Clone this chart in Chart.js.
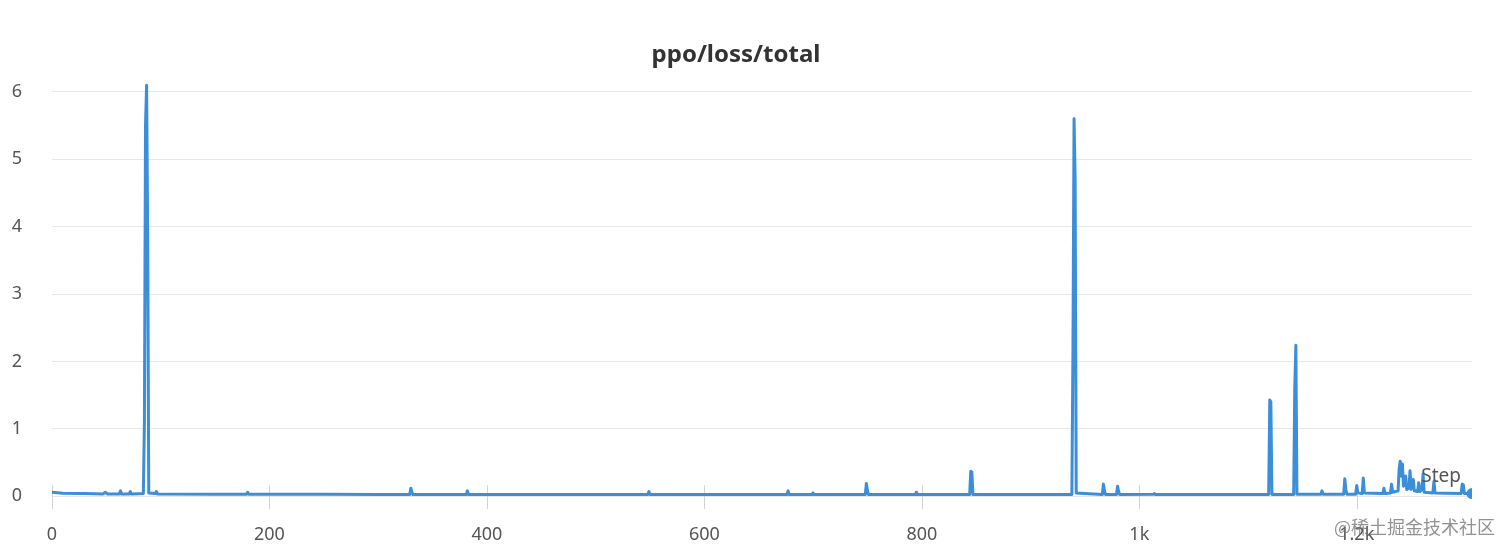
<!DOCTYPE html>
<html>
<head>
<meta charset="utf-8">
<script src="https://cdn.jsdelivr.net/npm/chart.js@4"></script>
<style>
  body { margin: 0; background: #fff; }
  #wrap { width: 1512px; height: 555px; }
</style>
</head>
<body>
<div id="wrap"><canvas id="graph"></canvas></div>
<script>
// step / loss pairs
var steps = [0, 10, 30, 47, 49, 51, 62, 63, 64, 71, 72, 73, 84, 85, 86, 87, 88, 89, 95, 96, 97,
  150, 179, 180, 181, 250, 300, 329, 330, 331, 332, 381, 382, 383, 450, 548, 549, 550,
  600, 676, 677, 678, 699, 700, 701, 748, 749, 750, 751, 794, 795, 796, 844, 845, 846, 847,
  938, 939, 940, 941, 942, 966, 967, 968, 969, 979, 980, 981, 982, 1013, 1014, 1015,
  1080, 1119, 1120, 1121, 1122, 1142, 1143, 1144, 1145, 1167, 1168, 1169, 1188, 1189, 1190, 1191,
  1199, 1200, 1201, 1205, 1206, 1207, 1224, 1225, 1226, 1231, 1232, 1233, 1238, 1239, 1240, 1241,
  1242, 1243, 1245, 1246, 1248, 1249, 1250, 1252, 1253, 1256, 1257, 1258, 1260, 1261, 1262,
  1270, 1271, 1272, 1296, 1297, 1298, 1299, 1306];
var loss = [0.06, 0.045, 0.04, 0.035, 0.06, 0.035, 0.035, 0.08, 0.035, 0.035, 0.07, 0.035, 0.04, 1.1, 5.5, 6.1, 3.9, 0.05, 0.04, 0.07, 0.035,
  0.03, 0.03, 0.06, 0.03, 0.03, 0.025, 0.025, 0.12, 0.06, 0.025, 0.025, 0.08, 0.025, 0.025, 0.025, 0.07, 0.025,
  0.025, 0.025, 0.08, 0.025, 0.025, 0.05, 0.025, 0.025, 0.19, 0.08, 0.025, 0.025, 0.06, 0.025, 0.025, 0.37, 0.36, 0.025,
  0.025, 2.2, 5.6, 4.7, 0.05, 0.025, 0.18, 0.08, 0.025, 0.025, 0.15, 0.07, 0.025, 0.03, 0.04, 0.025,
  0.025, 0.025, 1.43, 1.4, 0.025, 0.025, 1.6, 2.24, 0.03, 0.03, 0.08, 0.03, 0.03, 0.26, 0.1, 0.03,
  0.03, 0.16, 0.05, 0.04, 0.27, 0.05, 0.04, 0.12, 0.04, 0.05, 0.18, 0.06, 0.08, 0.4, 0.52, 0.3,
  0.48, 0.15, 0.3, 0.1, 0.12, 0.38, 0.1, 0.25, 0.08, 0.07, 0.2, 0.07, 0.1, 0.33, 0.06,
  0.05, 0.22, 0.05, 0.04, 0.18, 0.17, 0.04, 0.04];

var title = 'ppo/loss/total';
var xLabel = 'Step';
var watermark = '@稀土掘金技术社区';

var points = [];
for (var i = 0; i < steps.length; i++) {
  points.push({ x: steps[i], y: loss[i] });
}

// little tick marks across the zero line, plus the Step label and watermark
var extras = {
  id: 'extras',
  beforeDatasetsDraw: function(chart) {
    var ctx = chart.ctx;
    var xs = chart.scales.x, ys = chart.scales.y;
    var y0 = ys.getPixelForValue(0);
    ctx.save();
    ctx.strokeStyle = '#d4d4d4';
    ctx.lineWidth = 1;
    xs.ticks.forEach(function(t) {
      var px = Math.round(xs.getPixelForValue(t.value)) + 0.5;
      ctx.beginPath();
      ctx.moveTo(px, y0 - 11);
      ctx.lineTo(px, y0 + 13);
      ctx.stroke();
    });
    ctx.restore();
  },
  afterDraw: function(chart) {
    var ctx = chart.ctx;
    var area = chart.chartArea;
    ctx.save();
    ctx.fillStyle = '#555';
    ctx.font = '19px "Noto Sans"';
    ctx.textAlign = 'right';
    ctx.textBaseline = 'middle';
    ctx.fillText(xLabel, area.right - 11, 477);
    ctx.fillStyle = 'rgba(110,110,110,0.75)';
    ctx.font = '18px "Noto Sans CJK SC"';
    ctx.fillText(watermark, 1495, 527);
    ctx.restore();
  }
};

var ctx = document.getElementById('graph').getContext('2d');
var chart = new Chart(ctx, {
  type: 'line',
  data: {
    datasets: [{
      label: 'loss',
      data: points,
      borderColor: 'rgb(58,142,218)',
      backgroundColor: 'rgb(58,142,218)',
      borderWidth: 3,
      borderJoinStyle: 'round',
      tension: 0,
      pointRadius: function(c) { return c.dataIndex === points.length - 1 ? 4 : 0; },
      pointHoverRadius: 0
    }]
  },
  options: {
    responsive: true,
    maintainAspectRatio: false,
    animation: false,
    layout: { padding: { left: 0, right: 40, top: 0, bottom: 0 } },
    plugins: {
      legend: { display: false },
      tooltip: { enabled: false },
      title: {
        display: true,
        text: title,
        color: '#333',
        font: { family: '"Noto Sans"', size: 24, weight: 'bold' },
        padding: { top: 41, bottom: 12 }
      }
    },
    scales: {
      x: {
        type: 'linear',
        min: 0,
        max: 1306,
        grid: { display: false },
        border: { display: false },
        ticks: {
          stepSize: 200,
          includeBounds: false,
          maxRotation: 0,
          padding: 13,
          color: '#555',
          font: { family: '"Noto Sans"', size: 18 },
          callback: function(v) { return v >= 1000 ? (v / 1000) + 'k' : v; }
        },
        afterFit: function(scale) { scale.height = 52; }
      },
      y: {
        min: -0.1,
        max: 6.15,
        grid: { color: '#e8e8e8', drawTicks: false },
        border: { display: false },
        ticks: {
          stepSize: 1,
          includeBounds: false,
          padding: 30,
          color: '#555',
          font: { family: '"Noto Sans"', size: 18 }
        },
        afterFit: function(scale) { scale.width = 52; }
      }
    }
  },
  plugins: [extras]
});
</script>
</body>
</html>
